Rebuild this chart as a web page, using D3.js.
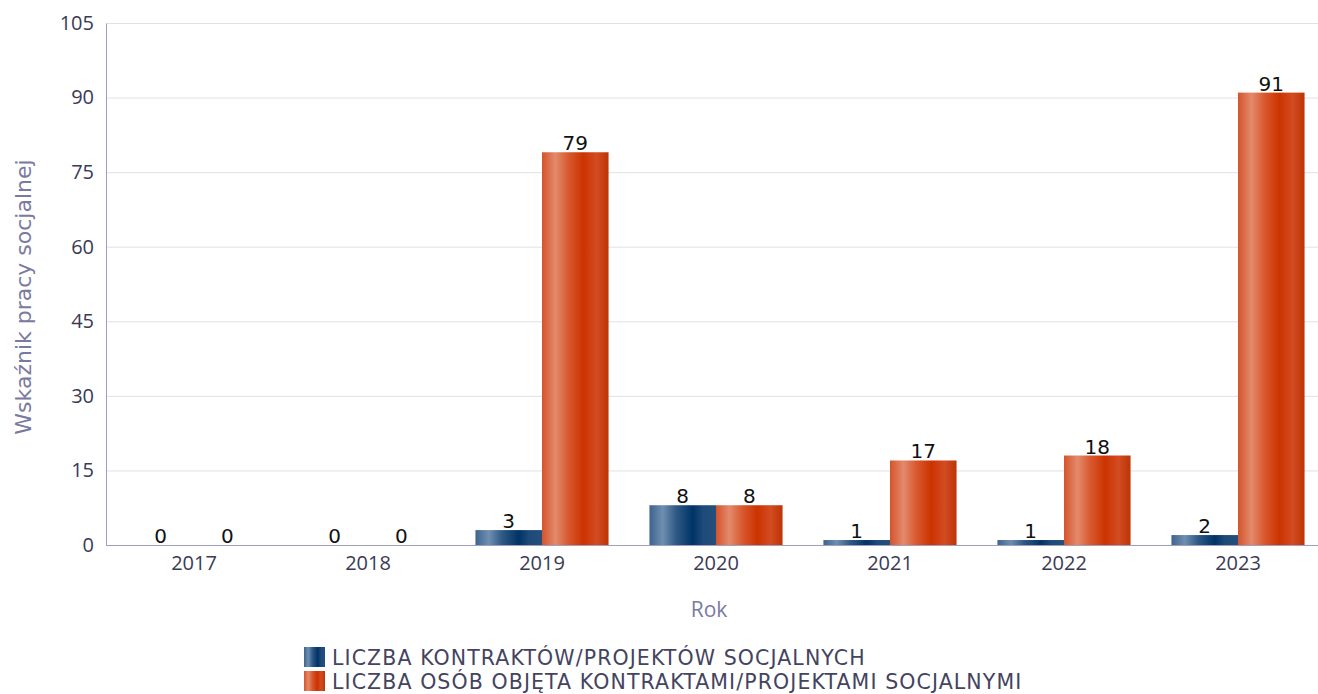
<!DOCTYPE html>
<html><head><meta charset="utf-8">
<script src="https://cdn.jsdelivr.net/npm/d3@7"></script>
<style>body{margin:0;background:#fff}svg{display:block}</style>
</head><body>
<svg id="c" width="1318" height="694"></svg>
<script>
const categories = ["2017","2018","2019","2020","2021","2022","2023"];
const seriesNames = ["LICZBA KONTRAKTÓW/PROJEKTÓW SOCJALNYCH","LICZBA OSÓB OBJĘTA KONTRAKTAMI/PROJEKTAMI SOCJALNYMI"];
const kontrakty = [0,0,3,8,1,1,2];
const osoby = [0,0,79,8,17,18,91];
const yTicks = [0,15,30,45,60,75,90,105];

const svg = d3.select("#c");
const L=106, R=1318, T=23, B=545;
const FONT="DejaVu Sans", TFONT="Open Sans";
const defs = svg.append("defs");
function grad(id, stops){
  const g = defs.append("linearGradient").attr("id",id).attr("x1","0%").attr("x2","100%").attr("y1","0%").attr("y2","0%");
  stops.forEach(s=>g.append("stop").attr("offset",s[0]).attr("stop-color",s[1]));
}
grad("gBlue",[["0%","#3d6390"],["20%","#6f8fb0"],["40%","#2f5985"],["65%","#003366"],["80%","#1d4a78"],["100%","#254f7c"]]);
grad("gOr",[["0%","#d4542a"],["20%","#e38a6c"],["40%","#d8582e"],["62%","#cc3300"],["82%","#d24c22"],["100%","#bd3405"]]);
const fills=["url(#gBlue)","url(#gOr)"];

const y = d3.scaleLinear().domain([0,105]).range([B,T]);
const x0 = d3.scaleBand().domain(categories).range([L+1,1325]).paddingInner(0.235).paddingOuter(0.1175);
const x1 = d3.scaleBand().domain([0,1]).range([0,x0.bandwidth()]);

svg.append("g").selectAll("line").data(yTicks.filter(d=>d>0)).join("line")
  .attr("x1",L).attr("x2",R).attr("y1",d=>y(d)+0.5).attr("y2",d=>y(d)+0.5)
  .attr("stroke","#e0e0e8").attr("stroke-width",1);

const ya = svg.append("g").attr("transform",`translate(${L},0)`)
  .call(d3.axisLeft(y).tickValues(yTicks).tickSize(0).tickPadding(12));
ya.select(".domain").attr("stroke","#a0a0c4");
ya.selectAll("text").attr("font-family",TFONT).attr("font-size","20px").attr("fill","#3a3a55");

const data = categories.map((c,i)=>({c, v:[kontrakty[i],osoby[i]]}));
const g = svg.append("g");
const grp = g.selectAll("g").data(data).join("g").attr("transform",d=>`translate(${x0(d.c)},0)`);
grp.selectAll("rect").data(d=>d.v.map((v,k)=>({v,k}))).join("rect")
  .attr("x",d=>x1(d.k)).attr("width",x1.bandwidth())
  .attr("y",d=>y(d.v)).attr("height",d=>B-y(d.v))
  .attr("fill",d=>fills[d.k]);
grp.selectAll("text").data(d=>d.v.map((v,k)=>({v,k}))).join("text")
  .attr("x",d=>x1(d.k)+x1.bandwidth()/2).attr("y",d=>y(d.v)-2)
  .attr("text-anchor","middle").attr("font-family",FONT).attr("font-size","20px").attr("fill","#111")
  .text(d=>d.v);

const xa = svg.append("g").attr("transform",`translate(0,${B})`)
  .call(d3.axisBottom(x0).tickSize(0).tickPadding(11));
xa.select(".domain").remove();
svg.append("line").attr("x1",L).attr("x2",R).attr("y1",B+0.5).attr("y2",B+0.5).attr("stroke","#a0a0bc");
xa.selectAll("text").attr("font-family",TFONT).attr("font-size","20px").attr("fill","#3a3a55");

svg.append("text").attr("x",709).attr("y",617).attr("text-anchor","middle")
  .attr("font-family",TFONT).attr("font-size","21px").attr("fill","#7a7aa0").text("Rok");
svg.append("text").attr("transform","translate(31,297) rotate(-90)").attr("text-anchor","middle")
  .attr("font-family",FONT).attr("font-size","22px").attr("fill","#7a7aa0").text("Wskaźnik pracy socjalnej");

const lg = svg.append("g").selectAll("g").data(seriesNames).join("g")
  .attr("transform",(d,i)=>`translate(304,${647+i*24})`);
lg.append("rect").attr("width",21).attr("height",20).attr("fill",(d,i)=>fills[i]);
lg.append("text").attr("x",28).attr("y",17.5).attr("font-family",FONT).attr("font-size","20.5px")
  .attr("letter-spacing","1.1px").attr("fill","#444460").text(d=>d);
</script>
</body></html>
